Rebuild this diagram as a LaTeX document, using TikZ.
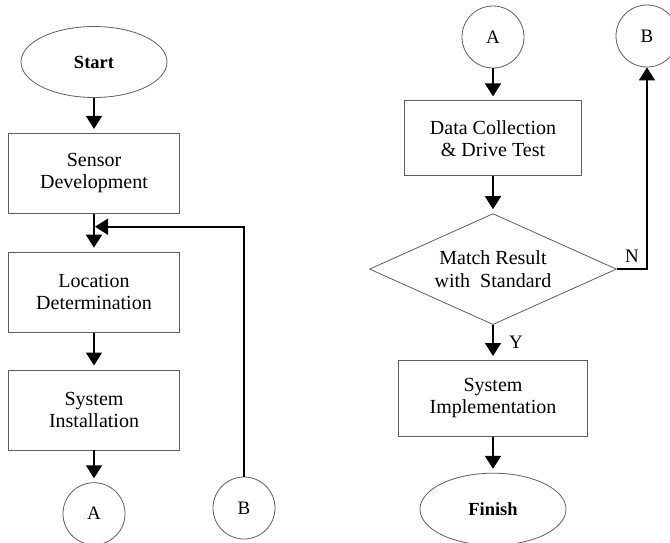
\documentclass[tikz,border=0pt]{standalone}
\usepackage{fontspec}
\setmainfont{Liberation Serif}
\usetikzlibrary{positioning, arrows.meta, shapes.geometric}
\definecolor{edgegray}{RGB}{95,95,95}

\begin{document}
\begin{tikzpicture}[x=1pt, y=-1pt,
  box/.style={rectangle, draw=edgegray, line width=0.8pt, minimum width=171pt, minimum height=80pt, inner sep=0pt, align=center, font=\fontsize{20}{22}\selectfont},
  term/.style={ellipse, draw=edgegray, line width=0.8pt, minimum width=146pt, minimum height=71pt, inner sep=0pt, font=\fontsize{18.5}{22}\selectfont\bfseries},
  conn/.style={circle, draw=edgegray, line width=0.8pt, minimum size=62pt, inner sep=0pt, font=\fontsize{19}{22}\selectfont},
  decide/.style={diamond, draw=edgegray, line width=0.8pt, aspect=2.2, minimum width=247pt, minimum height=111pt, inner sep=0pt, align=center, font=\fontsize{20}{23}\selectfont},
  flow/.style={-{Triangle[width=16pt,length=13pt]}, line width=1.7pt, shorten >=4pt},
  tag/.style={font=\fontsize{19}{22}\selectfont},
  node distance=35pt
]
\useasboundingbox (0,0) rectangle (670,542);

% left column
\node[term] (start) at (94,62) {Start};
\node[box, below=35pt of start] (sensor) {Sensor\\Development};
\node[box, below=38pt of sensor] (locate) {Location\\Determination};
\node[box, below=37pt of locate] (install) {System\\Installation};
\node[conn, below=32pt of install] (conA) {A};
\node[conn] (conB) at (244,508) {B};
\coordinate (merge) at ([yshift=-13pt]sensor.south);

% right column
\node[conn] (topA) at (493,37) {A};
\node[box, minimum width=177pt, minimum height=75pt, below=32pt of topA] (collect) {Data Collection\\\& Drive Test};
\node[decide, below=37pt of collect] (match) {Match Result\\with\ \ Standard};
\node[box, minimum width=189pt, minimum height=76pt, below=35pt of match] (implement) {System\\Implementation};
\node[term, minimum height=72pt, below=36pt of implement] (finish) {Finish};
\node[conn] (topB) at (647,36) {B};

\draw[flow] (start) -- (sensor);
\draw[flow] (sensor) -- (locate);
\draw[flow] (locate) -- (install);
\draw[flow] (install) -- (conA);
\draw[flow, shorten >=1pt] (conB) |- (merge);

\draw[flow] (topA) -- (collect);
\draw[flow] (collect) -- (match);
\draw[flow] (match) -- node[tag, right=12pt] (yes) {Y} (implement);
\draw[flow, shorten >=0pt] (match.east) -| node[tag, pos=0.25, above=2pt] (no) {N} (topB);
\draw[flow] (implement) -- (finish);
\end{tikzpicture}
\end{document}
